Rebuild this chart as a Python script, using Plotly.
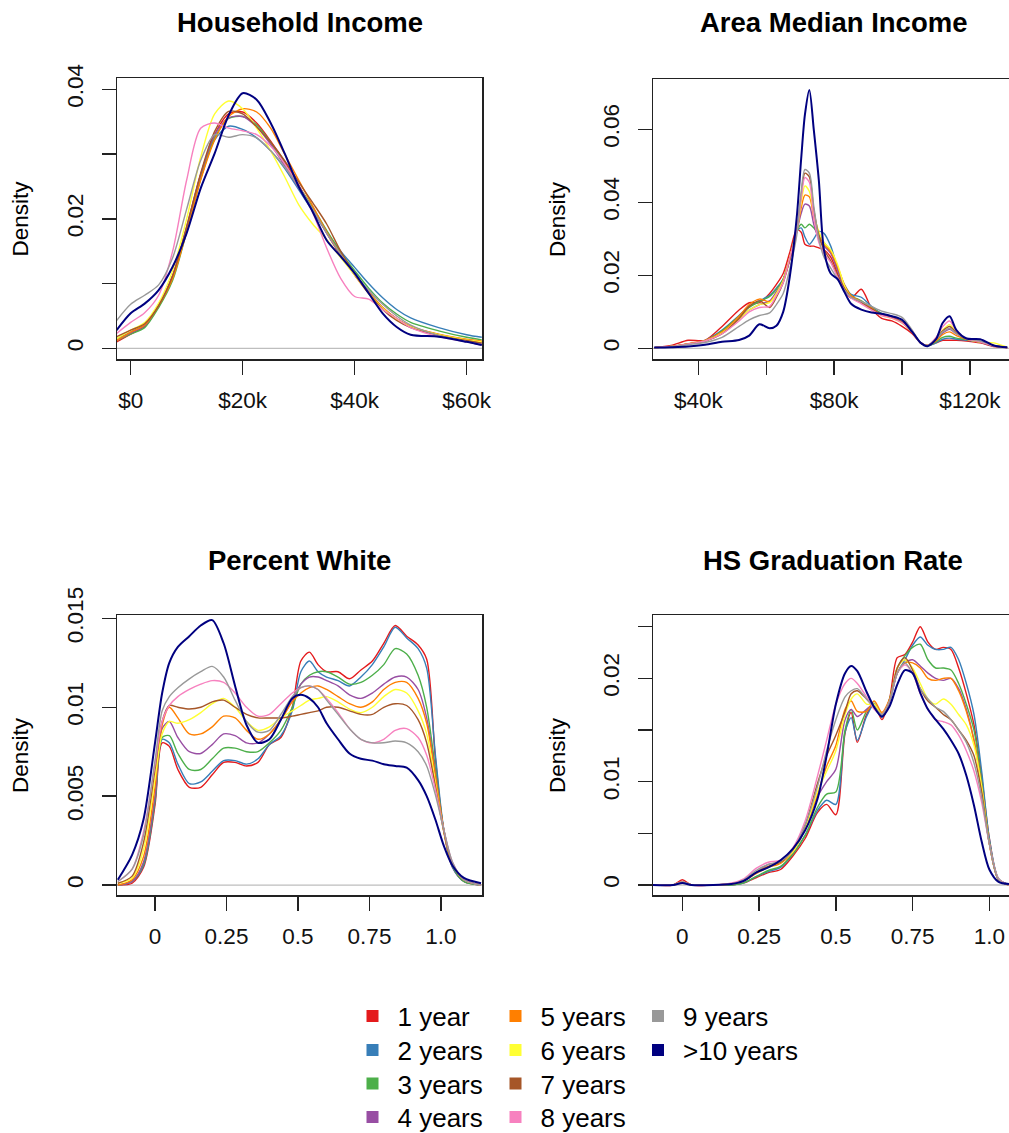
import plotly.graph_objects as go

# ---------------- data ----------------
series_names = ["1 year", "2 years", "3 years", "4 years", "5 years",
                "6 years", "7 years", "8 years", "9 years", ">10 years"]
series_colors = ["#E41A1C", "#377EB8", "#4DAF4A", "#984EA3", "#FF7F00",
                 "#FFFF33", "#A65628", "#F781BF", "#999999", "#000080"]

panel_titles = ["Household Income", "Area Median Income", "Percent White", "HS Graduation Rate"]

# Household income (thousands of dollars)
hh_x = [-2.5, 0, 2.5, 5, 7.5, 10, 12.5, 15, 17.5, 20, 22.5, 25, 27.5, 30, 32.5,
        35, 37.5, 40, 42.5, 45, 47.5, 50, 55, 60, 62.7]
hh_1 = [0.0010, 0.0022, 0.0034, 0.0066, 0.0112, 0.0185, 0.0268, 0.0330, 0.0362, 0.0365, 0.0348, 0.0320, 0.0288,
        0.0252, 0.0215, 0.0178, 0.0143, 0.0113, 0.0085, 0.0062, 0.0045, 0.0033, 0.0021, 0.0013, 0.0010]
hh_2 = [0.0015, 0.0025, 0.0036, 0.0066, 0.0110, 0.0182, 0.0262, 0.0322, 0.0343, 0.0338, 0.0325, 0.0305, 0.0278,
        0.0245, 0.0212, 0.0180, 0.0150, 0.0125, 0.0100, 0.0078, 0.0060, 0.0047, 0.0032, 0.0021, 0.0017]
hh_3 = [0.0012, 0.0022, 0.0032, 0.0063, 0.0105, 0.0180, 0.0262, 0.0325, 0.0355, 0.0358, 0.0345, 0.0318, 0.0285,
        0.0250, 0.0218, 0.0182, 0.0148, 0.0120, 0.0093, 0.0070, 0.0053, 0.0040, 0.0027, 0.0017, 0.0013]
hh_4 = [0.0012, 0.0024, 0.0035, 0.0067, 0.0112, 0.0188, 0.0268, 0.0330, 0.0356, 0.0358, 0.0342, 0.0315, 0.0282,
        0.0248, 0.0214, 0.0178, 0.0145, 0.0115, 0.0088, 0.0063, 0.0046, 0.0034, 0.0021, 0.0012, 0.0008]
hh_5 = [0.0012, 0.0025, 0.0036, 0.0066, 0.0108, 0.0180, 0.0260, 0.0322, 0.0358, 0.0370, 0.0365, 0.0340, 0.0300,
        0.0260, 0.0220, 0.0180, 0.0145, 0.0115, 0.0087, 0.0063, 0.0046, 0.0034, 0.0022, 0.0014, 0.0011]
hh_6 = [0.0015, 0.0028, 0.0040, 0.0070, 0.0120, 0.0200, 0.0295, 0.0362, 0.0382, 0.0370, 0.0340, 0.0305, 0.0265,
        0.0222, 0.0192, 0.0168, 0.0140, 0.0113, 0.0085, 0.0062, 0.0045, 0.0033, 0.0021, 0.0013, 0.0010]
hh_7 = [0.0018, 0.0028, 0.0038, 0.0066, 0.0112, 0.0188, 0.0270, 0.0335, 0.0366, 0.0362, 0.0342, 0.0318, 0.0290,
        0.0257, 0.0225, 0.0192, 0.0150, 0.0115, 0.0085, 0.0060, 0.0043, 0.0032, 0.0020, 0.0012, 0.0008]
hh_8 = [0.0023, 0.0040, 0.0055, 0.0082, 0.0150, 0.0260, 0.0340, 0.0348, 0.0340, 0.0336, 0.0330, 0.0312, 0.0285,
        0.0250, 0.0210, 0.0155, 0.0108, 0.0080, 0.0076, 0.0060, 0.0046, 0.0032, 0.0018, 0.0010, 0.0005]
hh_9 = [0.0043, 0.0068, 0.0082, 0.0098, 0.0140, 0.0215, 0.0290, 0.0330, 0.0326, 0.0330, 0.0325, 0.0305, 0.0280,
        0.0250, 0.0215, 0.0178, 0.0145, 0.0115, 0.0090, 0.0068, 0.0050, 0.0036, 0.0020, 0.0010, 0.0005]
hh_10 = [0.0028, 0.0054, 0.0069, 0.0090, 0.0126, 0.0178, 0.0247, 0.0301, 0.0360, 0.0394, 0.0384, 0.0348, 0.0301,
         0.0250, 0.0211, 0.0167, 0.0142, 0.0116, 0.0085, 0.0054, 0.0033, 0.0021, 0.0018, 0.0010, 0.0005]

# Area median income (thousands of dollars)
ami_x = [27, 32, 37, 42, 47, 52, 55, 58, 61, 63, 65, 67, 69, 70.3, 71.4, 72.7, 74, 75.5, 77, 79,
         81, 83, 85, 88, 91, 94, 97, 100, 103, 105.5, 107.5, 110, 112, 114, 116, 119, 123, 127, 131]
ami_1 = [0.0002, 0.0008, 0.0022, 0.0022, 0.0060, 0.0105, 0.0125, 0.0125, 0.0150, 0.0175, 0.0205, 0.0265, 0.0325,
         0.0318, 0.0285, 0.0280, 0.0280, 0.0275, 0.0270, 0.0250, 0.0205, 0.0160, 0.0138, 0.0162, 0.0110, 0.0082,
         0.0075, 0.0060, 0.0040, 0.0015, 0.0008, 0.0015, 0.0022, 0.0022, 0.0022, 0.0020, 0.0015, 0.0005, 0.0002]
ami_2 = [0.0002, 0.0005, 0.0012, 0.0022, 0.0050, 0.0090, 0.0115, 0.0130, 0.0145, 0.0165, 0.0190, 0.0245, 0.0320,
         0.0330, 0.0305, 0.0285, 0.0300, 0.0320, 0.0315, 0.0280, 0.0220, 0.0175, 0.0148, 0.0140, 0.0115, 0.0095,
         0.0088, 0.0072, 0.0045, 0.0015, 0.0007, 0.0015, 0.0025, 0.0028, 0.0025, 0.0022, 0.0017, 0.0006, 0.0002]
ami_3 = [0.0002, 0.0005, 0.0012, 0.0020, 0.0048, 0.0088, 0.0112, 0.0128, 0.0142, 0.0162, 0.0190, 0.0250, 0.0320,
         0.0340, 0.0330, 0.0340, 0.0330, 0.0310, 0.0290, 0.0265, 0.0215, 0.0170, 0.0145, 0.0130, 0.0112, 0.0095,
         0.0085, 0.0070, 0.0045, 0.0015, 0.0007, 0.0018, 0.0030, 0.0033, 0.0028, 0.0024, 0.0018, 0.0007, 0.0002]
ami_4 = [0.0002, 0.0005, 0.0012, 0.0020, 0.0042, 0.0080, 0.0105, 0.0120, 0.0130, 0.0155, 0.0185, 0.0245, 0.0320,
         0.0370, 0.0395, 0.0390, 0.0340, 0.0300, 0.0280, 0.0260, 0.0215, 0.0170, 0.0143, 0.0128, 0.0110, 0.0093,
         0.0085, 0.0072, 0.0045, 0.0015, 0.0008, 0.0022, 0.0042, 0.0052, 0.0040, 0.0026, 0.0018, 0.0007, 0.0002]
ami_5 = [0.0002, 0.0005, 0.0013, 0.0022, 0.0045, 0.0088, 0.0120, 0.0135, 0.0128, 0.0150, 0.0185, 0.0250, 0.0320,
         0.0385, 0.0420, 0.0415, 0.0360, 0.0310, 0.0285, 0.0265, 0.0225, 0.0175, 0.0145, 0.0128, 0.0110, 0.0092,
         0.0085, 0.0072, 0.0045, 0.0015, 0.0008, 0.0020, 0.0038, 0.0045, 0.0035, 0.0025, 0.0018, 0.0008, 0.0002]
ami_6 = [0.0002, 0.0005, 0.0012, 0.0020, 0.0042, 0.0080, 0.0105, 0.0120, 0.0125, 0.0150, 0.0185, 0.0250, 0.0320,
         0.0400, 0.0445, 0.0430, 0.0370, 0.0320, 0.0290, 0.0270, 0.0230, 0.0172, 0.0140, 0.0125, 0.0105, 0.0090,
         0.0082, 0.0070, 0.0045, 0.0015, 0.0008, 0.0025, 0.0050, 0.0065, 0.0045, 0.0025, 0.0017, 0.0015, 0.0003]
ami_7 = [0.0002, 0.0005, 0.0012, 0.0020, 0.0040, 0.0082, 0.0115, 0.0130, 0.0112, 0.0140, 0.0180, 0.0245, 0.0320,
         0.0420, 0.0480, 0.0470, 0.0380, 0.0310, 0.0270, 0.0240, 0.0200, 0.0165, 0.0140, 0.0125, 0.0108, 0.0092,
         0.0085, 0.0072, 0.0045, 0.0015, 0.0008, 0.0025, 0.0048, 0.0060, 0.0042, 0.0025, 0.0018, 0.0007, 0.0002]
ami_8 = [0.0002, 0.0005, 0.0012, 0.0020, 0.0040, 0.0075, 0.0100, 0.0112, 0.0115, 0.0145, 0.0180, 0.0250, 0.0320,
         0.0410, 0.0468, 0.0455, 0.0360, 0.0290, 0.0260, 0.0235, 0.0195, 0.0160, 0.0138, 0.0122, 0.0105, 0.0090,
         0.0083, 0.0070, 0.0045, 0.0015, 0.0008, 0.0030, 0.0060, 0.0075, 0.0048, 0.0026, 0.0018, 0.0007, 0.0002]
ami_9 = [0.0002, 0.0004, 0.0010, 0.0016, 0.0030, 0.0060, 0.0078, 0.0090, 0.0097, 0.0120, 0.0150, 0.0220, 0.0310,
         0.0430, 0.0490, 0.0480, 0.0390, 0.0300, 0.0250, 0.0220, 0.0190, 0.0160, 0.0140, 0.0128, 0.0115, 0.0102,
         0.0095, 0.0085, 0.0050, 0.0015, 0.0008, 0.0025, 0.0045, 0.0055, 0.0040, 0.0027, 0.0020, 0.0008, 0.0002]
ami_10 = [0.0002, 0.0003, 0.0005, 0.0010, 0.0018, 0.0023, 0.0035, 0.0066, 0.0055, 0.0062, 0.0100, 0.0200, 0.0360,
          0.0520, 0.0640, 0.0708, 0.0600, 0.0460, 0.0270, 0.0205, 0.0190, 0.0155, 0.0122, 0.0106, 0.0098, 0.0095,
          0.0088, 0.0078, 0.0045, 0.0015, 0.0006, 0.0025, 0.0070, 0.0088, 0.0050, 0.0027, 0.0025, 0.0008, 0.0003]

# Percent white (share)
white_x = [-0.13, -0.08, -0.04, 0, 0.025, 0.05, 0.08, 0.12, 0.16, 0.2, 0.24, 0.28, 0.32, 0.36, 0.4, 0.44, 0.48,
           0.51, 0.54, 0.57, 0.6, 0.64, 0.68, 0.72, 0.76, 0.8, 0.84, 0.88, 0.92, 0.95, 0.98, 1.01, 1.04, 1.08, 1.14]
white_1 = [0.0000, 0.0001, 0.0010, 0.0045, 0.0080, 0.0078, 0.0065, 0.0055, 0.0055, 0.0062, 0.0069, 0.0069, 0.0067,
           0.0069, 0.0079, 0.0083, 0.0100, 0.0126, 0.0131, 0.0124, 0.0120, 0.0120, 0.0116, 0.0121, 0.0126, 0.0136,
           0.0146, 0.0140, 0.0135, 0.0127, 0.0072, 0.0030, 0.0010, 0.0002, 0.0000]
white_2 = [0.0000, 0.0002, 0.0011, 0.0047, 0.0082, 0.0080, 0.0068, 0.0057, 0.0058, 0.0064, 0.0070, 0.0070, 0.0068,
           0.0071, 0.0079, 0.0084, 0.0098, 0.0120, 0.0126, 0.0120, 0.0117, 0.0115, 0.0112, 0.0117, 0.0124, 0.0134,
           0.0145, 0.0139, 0.0133, 0.0122, 0.0074, 0.0031, 0.0010, 0.0002, 0.0000]
white_3 = [0.0000, 0.0002, 0.0012, 0.0048, 0.0083, 0.0084, 0.0074, 0.0065, 0.0065, 0.0071, 0.0077, 0.0077, 0.0075,
           0.0075, 0.0080, 0.0087, 0.0100, 0.0113, 0.0118, 0.0120, 0.0120, 0.0117, 0.0113, 0.0114, 0.0118, 0.0124,
           0.0133, 0.0130, 0.0118, 0.0100, 0.0066, 0.0031, 0.0011, 0.0002, 0.0000]
white_4 = [0.0000, 0.0002, 0.0013, 0.0050, 0.0088, 0.0092, 0.0083, 0.0075, 0.0074, 0.0079, 0.0085, 0.0084, 0.0080,
           0.0080, 0.0085, 0.0093, 0.0104, 0.0113, 0.0117, 0.0117, 0.0115, 0.0112, 0.0107, 0.0105, 0.0108, 0.0113,
           0.0117, 0.0117, 0.0110, 0.0094, 0.0063, 0.0031, 0.0012, 0.0003, 0.0000]
white_5 = [0.0000, 0.0003, 0.0016, 0.0055, 0.0090, 0.0100, 0.0094, 0.0085, 0.0085, 0.0089, 0.0095, 0.0094, 0.0087,
           0.0082, 0.0085, 0.0093, 0.0103, 0.0108, 0.0111, 0.0112, 0.0110, 0.0106, 0.0102, 0.0100, 0.0103, 0.0110,
           0.0114, 0.0114, 0.0105, 0.0091, 0.0062, 0.0031, 0.0012, 0.0003, 0.0000]
white_6 = [0.0001, 0.0004, 0.0020, 0.0060, 0.0085, 0.0092, 0.0091, 0.0093, 0.0097, 0.0102, 0.0105, 0.0100, 0.0092,
           0.0087, 0.0089, 0.0094, 0.0098, 0.0101, 0.0104, 0.0105, 0.0106, 0.0103, 0.0099, 0.0097, 0.0100, 0.0106,
           0.0110, 0.0108, 0.0098, 0.0085, 0.0058, 0.0030, 0.0012, 0.0003, 0.0000]
white_7 = [0.0001, 0.0005, 0.0024, 0.0065, 0.0092, 0.0101, 0.0100, 0.0099, 0.0100, 0.0103, 0.0104, 0.0100, 0.0096,
           0.0094, 0.0094, 0.0094, 0.0095, 0.0096, 0.0097, 0.0098, 0.0100, 0.0100, 0.0098, 0.0096, 0.0096, 0.0100,
           0.0102, 0.0101, 0.0093, 0.0080, 0.0056, 0.0030, 0.0012, 0.0003, 0.0000]
white_8 = [0.0002, 0.0009, 0.0030, 0.0068, 0.0092, 0.0101, 0.0106, 0.0110, 0.0113, 0.0115, 0.0114, 0.0108, 0.0100,
           0.0095, 0.0096, 0.0102, 0.0108, 0.0111, 0.0112, 0.0110, 0.0105, 0.0097, 0.0088, 0.0082, 0.0080, 0.0082,
           0.0087, 0.0088, 0.0083, 0.0073, 0.0054, 0.0031, 0.0013, 0.0003, 0.0000]
white_9 = [0.0002, 0.0009, 0.0028, 0.0070, 0.0098, 0.0106, 0.0111, 0.0116, 0.0120, 0.0123, 0.0117, 0.0104, 0.0092,
           0.0086, 0.0087, 0.0096, 0.0106, 0.0111, 0.0112, 0.0110, 0.0104, 0.0096, 0.0088, 0.0082, 0.0080, 0.0080,
           0.0081, 0.0080, 0.0075, 0.0067, 0.0051, 0.0031, 0.0013, 0.0003, 0.0000]
white_10 = [0.0003, 0.0017, 0.0037, 0.0080, 0.0108, 0.0125, 0.0134, 0.0140, 0.0146, 0.0149, 0.0136, 0.0112, 0.0090,
            0.0080, 0.0082, 0.0093, 0.0105, 0.0107, 0.0105, 0.0100, 0.0091, 0.0082, 0.0074, 0.0071, 0.0070, 0.0068,
            0.0067, 0.0066, 0.0059, 0.0050, 0.0037, 0.0022, 0.0011, 0.0004, 0.0001]

# HS graduation rate (share)
grad_x = [-0.1, -0.03, 0, 0.03, 0.1, 0.16, 0.2, 0.24, 0.28, 0.32, 0.36, 0.4, 0.44, 0.47, 0.5, 0.53, 0.55, 0.57,
          0.6, 0.625, 0.65, 0.675, 0.7, 0.725, 0.75, 0.775, 0.8, 0.825, 0.85, 0.875, 0.9, 0.925, 0.95, 0.975,
          1.0, 1.03, 1.064]
grad_1 = [0, 0, 0.0005, 0, 0, 0, 0.0002, 0.0007, 0.0012, 0.0015, 0.0028, 0.0045, 0.0070, 0.0078, 0.0068, 0.0147,
          0.0167, 0.0138, 0.0165, 0.0175, 0.0160, 0.0180, 0.0220, 0.0223, 0.0235, 0.0250, 0.0235, 0.0228, 0.0230,
          0.0228, 0.0210, 0.0185, 0.0155, 0.0105, 0.0045, 0.0005, 0.0000]
grad_2 = [0, 0, 0.0003, 0, 0, 0, 0.0002, 0.0008, 0.0013, 0.0017, 0.0030, 0.0048, 0.0072, 0.0082, 0.0078, 0.0148,
          0.0162, 0.0140, 0.0163, 0.0175, 0.0162, 0.0178, 0.0205, 0.0218, 0.0232, 0.0240, 0.0232, 0.0228, 0.0228,
          0.0230, 0.0218, 0.0195, 0.0165, 0.0110, 0.0045, 0.0006, 0.0000]
grad_3 = [0, 0, 0.0003, 0, 0, 0, 0.0002, 0.0008, 0.0014, 0.0018, 0.0030, 0.0048, 0.0075, 0.0088, 0.0090, 0.0150,
          0.0170, 0.0150, 0.0168, 0.0176, 0.0163, 0.0180, 0.0210, 0.0222, 0.0230, 0.0233, 0.0218, 0.0210, 0.0210,
          0.0208, 0.0195, 0.0175, 0.0150, 0.0100, 0.0042, 0.0006, 0.0000]
grad_4 = [0, 0, 0.0003, 0, 0, 0.0001, 0.0004, 0.0012, 0.0020, 0.0022, 0.0032, 0.0055, 0.0085, 0.0100, 0.0112, 0.0160,
          0.0170, 0.0163, 0.0170, 0.0175, 0.0165, 0.0178, 0.0205, 0.0215, 0.0218, 0.0212, 0.0205, 0.0200, 0.0198,
          0.0200, 0.0190, 0.0170, 0.0140, 0.0095, 0.0040, 0.0005, 0.0000]
grad_5 = [0, 0, 0.0003, 0, 0, 0.0001, 0.0004, 0.0011, 0.0017, 0.0021, 0.0032, 0.0055, 0.0088, 0.0115, 0.0135, 0.0170,
          0.0178, 0.0168, 0.0168, 0.0178, 0.0167, 0.0180, 0.0205, 0.0215, 0.0215, 0.0210, 0.0200, 0.0198, 0.0200,
          0.0200, 0.0188, 0.0168, 0.0140, 0.0095, 0.0040, 0.0005, 0.0000]
grad_6 = [0, 0, 0.0003, 0, 0, 0.0001, 0.0004, 0.0012, 0.0018, 0.0022, 0.0032, 0.0055, 0.0090, 0.0110, 0.0130, 0.0165,
          0.0180, 0.0185, 0.0175, 0.0175, 0.0165, 0.0178, 0.0210, 0.0218, 0.0210, 0.0195, 0.0180, 0.0175, 0.0180,
          0.0175, 0.0165, 0.0155, 0.0135, 0.0095, 0.0040, 0.0005, 0.0000]
grad_7 = [0, 0, 0.0003, 0, 0, 0.0001, 0.0004, 0.0012, 0.0018, 0.0022, 0.0034, 0.0058, 0.0098, 0.0125, 0.0145, 0.0168,
          0.0185, 0.0188, 0.0180, 0.0172, 0.0165, 0.0178, 0.0210, 0.0220, 0.0208, 0.0190, 0.0178, 0.0172, 0.0165,
          0.0160, 0.0150, 0.0140, 0.0125, 0.0090, 0.0040, 0.0005, 0.0000]
grad_8 = [0, 0, 0.0003, 0, 0, 0.0002, 0.0006, 0.0016, 0.0022, 0.0024, 0.0036, 0.0062, 0.0105, 0.0140, 0.0175, 0.0195,
          0.0200, 0.0195, 0.0182, 0.0170, 0.0165, 0.0178, 0.0205, 0.0213, 0.0205, 0.0185, 0.0170, 0.0160, 0.0158,
          0.0155, 0.0145, 0.0130, 0.0110, 0.0080, 0.0040, 0.0006, 0.0000]
grad_9 = [0, 0, 0.0003, 0, 0, 0.0001, 0.0005, 0.0014, 0.0020, 0.0023, 0.0034, 0.0058, 0.0095, 0.0130, 0.0160, 0.0182,
          0.0188, 0.0190, 0.0180, 0.0172, 0.0165, 0.0178, 0.0205, 0.0215, 0.0205, 0.0190, 0.0180, 0.0172, 0.0168,
          0.0160, 0.0150, 0.0138, 0.0118, 0.0085, 0.0040, 0.0005, 0.0000]
grad_10 = [0, 0, 0.0002, 0, 0, 0.0001, 0.0004, 0.0012, 0.0017, 0.0024, 0.0035, 0.0053, 0.0083, 0.0125, 0.0175, 0.0205,
           0.0212, 0.0207, 0.0187, 0.0172, 0.0163, 0.0173, 0.0194, 0.0208, 0.0205, 0.0186, 0.0170, 0.0160, 0.0151,
           0.0140, 0.0127, 0.0106, 0.0077, 0.0042, 0.0015, 0.0003, 0.0001]

# tick values / labels
hh_xticks = [0, 20, 40, 60]
hh_xlabels = ["$0", "$20k", "$40k", "$60k"]
hh_yticks = [0, 0.01, 0.02, 0.03, 0.04]
hh_ylabels = ["0", "", "0.02", "", "0.04"]
ami_xticks = [40, 60, 80, 100, 120]
ami_xlabels = ["$40k", "", "$80k", "", "$120k"]
ami_yticks = [0, 0.02, 0.04, 0.06]
ami_ylabels = ["0", "0.02", "0.04", "0.06"]
share_xticks = [0, 0.25, 0.5, 0.75, 1.0]
share_xlabels = ["0", "0.25", "0.5", "0.75", "1.0"]
white_yticks = [0, 0.005, 0.01, 0.015]
white_ylabels = ["0", "0.005", "0.01", "0.015"]
grad_yticks = [0, 0.005, 0.01, 0.015, 0.02, 0.025]
grad_ylabels = ["0", "", "0.01", "", "0.02", ""]

# ---------------- figure ----------------
W, H = 1009, 1133
FONT = "Liberation Sans, Arial, sans-serif"


def fx(p):
    return p / W


def fy(p):
    return 1 - p / H


panels = [
    dict(ax="", x=hh_x, ys=[hh_1, hh_2, hh_3, hh_4, hh_5, hh_6, hh_7, hh_8, hh_9, hh_10],
         xdom=(117, 482), ydom=(78, 359), xr=(-2.44, 62.74), yr=(-0.00165, 0.04175),
         xt=(hh_xticks, hh_xlabels), yt=(hh_yticks, hh_ylabels), mirror=True),
    dict(ax="2", x=ami_x, ys=[ami_1, ami_2, ami_3, ami_4, ami_5, ami_6, ami_7, ami_8, ami_9, ami_10],
         xdom=(653, 1009), ydom=(79, 359), xr=(26.66, 131.5), yr=(-0.00292, 0.07379),
         xt=(ami_xticks, ami_xlabels), yt=(ami_yticks, ami_ylabels), mirror=False),
    dict(ax="3", x=white_x, ys=[white_1, white_2, white_3, white_4, white_5, white_6, white_7, white_8,
                                white_9, white_10],
         xdom=(117, 482), ydom=(615, 895), xr=(-0.1329, 1.1434), yr=(-0.00056, 0.01519),
         xt=(share_xticks, share_xlabels), yt=(white_yticks, white_ylabels), mirror=True),
    dict(ax="4", x=grad_x, ys=[grad_1, grad_2, grad_3, grad_4, grad_5, grad_6, grad_7, grad_8, grad_9, grad_10],
         xdom=(653, 1009), ydom=(615, 895), xr=(-0.0955, 1.064), yr=(-0.00097, 0.02613),
         xt=(share_xticks, share_xlabels), yt=(grad_yticks, grad_ylabels), mirror=False),
]

fig = go.Figure()
layout = dict(
    width=W, height=H, autosize=False,
    margin=dict(l=0, r=0, t=0, b=0, pad=0, autoexpand=False),
    paper_bgcolor="white", plot_bgcolor="white",
    font=dict(family=FONT, size=22.5, color="#000"),
    annotations=[], shapes=[],
)

axis_common = dict(showgrid=False, zeroline=False, showline=True, linecolor="#222", linewidth=1.5,
                   ticks="outside", ticklen=14, tickwidth=1.4, tickcolor="#222", automargin=False,
                   tickfont=dict(family=FONT, size=22.5, color="#111"), fixedrange=True)

for i, p in enumerate(panels):
    xa, ya = "x" + p["ax"], "y" + p["ax"]
    for k in range(10):
        fig.add_trace(go.Scatter(
            x=p["x"], y=p["ys"][k], mode="lines", xaxis=xa, yaxis=ya,
            line=dict(color=series_colors[k], width=2.0 if k == 9 else 1.4, shape="spline", smoothing=0.8),
            name=series_names[k], showlegend=False, hoverinfo="skip"))
    layout["xaxis" + p["ax"]] = dict(
        axis_common, domain=[fx(p["xdom"][0]), fx(p["xdom"][1])], range=list(p["xr"]), anchor=ya,
        tickmode="array", tickvals=p["xt"][0], ticktext=p["xt"][1], mirror=True, ticklabelstandoff=6)
    layout["yaxis" + p["ax"]] = dict(
        axis_common, domain=[fy(p["ydom"][1]), fy(p["ydom"][0])], range=list(p["yr"]), anchor=xa,
        tickmode="array", tickvals=p["yt"][0], ticktext=p["yt"][1], mirror=p["mirror"], tickangle=-90,
        ticklabelstandoff=10)
    # grey baseline at zero density
    layout["shapes"].append(dict(type="line", xref=xa + " domain", x0=0, x1=1, yref=ya, y0=0, y1=0,
                                 line=dict(color="#BEBEBE", width=1.3), layer="below"))
    cx = (p["xdom"][0] + p["xdom"][1]) / 2 if p["mirror"] else 833
    ty = 23 if i < 2 else 560
    layout["annotations"].append(dict(
        text="<b>" + panel_titles[i] + "</b>", x=fx(cx), y=fy(ty), xref="paper", yref="paper",
        xanchor="center", yanchor="middle", showarrow=False, font=dict(family=FONT, size=27.5, color="#000")))
    dx = 20 if p["mirror"] else 557
    layout["annotations"].append(dict(
        text="Density", x=fx(dx), y=fy((p["ydom"][0] + p["ydom"][1]) / 2), xref="paper", yref="paper",
        xanchor="center", yanchor="middle", textangle=-90, showarrow=False,
        font=dict(family=FONT, size=22.5, color="#000")))

# legend: one small legend per entry, laid out as 3 columns x 4 rows (column-major)
legend_x = [347.5, 347.5, 347.5, 347.5, 490.5, 490.5, 490.5, 490.5, 633, 633]
legend_y = [1016, 1050, 1083.5, 1117, 1016, 1050, 1083.5, 1117, 1016, 1050]
leg_common = dict(font=dict(family=FONT, size=26, color="#000"), bgcolor="rgba(0,0,0,0)",
                  borderwidth=0, itemwidth=40, tracegroupgap=0, yanchor="middle", xanchor="left",
                  orientation="v", itemclick=False, itemdoubleclick=False)
for k in range(10):
    lname = "legend" if k == 0 else "legend%d" % (k + 1)
    fig.add_trace(go.Scatter(
        x=[None], y=[None], mode="markers", xaxis="x", yaxis="y", name=series_names[k],
        marker=dict(symbol="square", size=12, color=series_colors[k]), legend=lname,
        showlegend=True))
    layout[lname] = dict(leg_common, x=fx(legend_x[k]), y=fy(legend_y[k]))
layout["showlegend"] = True

fig.update_layout(**layout)
fig.write_html("out.html", include_plotlyjs=True, config={"displayModeBar": False, "staticPlot": True})
